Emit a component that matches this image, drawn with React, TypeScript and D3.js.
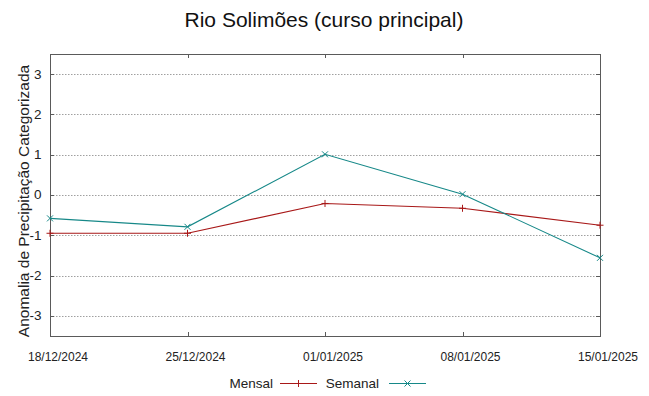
import * as d3 from "d3"
import { useEffect, useRef } from "react"

const dates = ["2024-12-18", "2024-12-25", "2025-01-01", "2025-01-08", "2025-01-15"]
const mensal = [-0.95, -0.95, -0.21, -0.33, -0.75]
const semanal = [-0.58, -0.79, 1.01, 0.02, -1.56]
const yTicks = [-3, -2, -1, 0, 1, 2, 3]
const title = "Rio Solimões (curso principal)"
const yLabel = "Anomalia de Precipitação Categorizada"

export default function App() {
    const svgRef = useRef<SVGSVGElement>(null)

    useEffect(() => {
        const width = 649
        const height = 396
        const marginTop = 54
        const marginRight = 49
        const marginBottom = 60
        const marginLeft = 50
        const frameColor = "#5a5a5a"
        const redColor = "#a81818"
        const tealColor = "#168888"
        const font = "'Liberation Sans', Arial, sans-serif"

        const parse = d3.utcParse("%Y-%m-%d")
        const xDates = dates.map(d => parse(d) as Date)
        const fmt = d3.utcFormat("%d/%m/%Y")

        const x = d3.scaleUtc([xDates[0], xDates[xDates.length - 1]], [marginLeft, width - marginRight])
        const y = d3.scaleLinear([-3.5, 3.5], [height - marginBottom, marginTop])

        if (svgRef.current !== null) {
            svgRef.current.innerHTML = ""
        }

        const svg = d3.select(svgRef.current)
            .attr("viewBox", [0, 0, width, height])
            .attr("width", width)
            .attr("height", height)
            .style("font-family", font)

        svg.append("rect")
            .attr("width", width)
            .attr("height", height)
            .attr("fill", "white")

        // grid
        svg.append("g")
            .selectAll()
            .data(yTicks)
            .join("line")
                .attr("x1", marginLeft)
                .attr("x2", width - marginRight)
                .attr("y1", d => Math.round(y(d)) + 0.5)
                .attr("y2", d => Math.round(y(d)) + 0.5)
                .attr("stroke", "#a0a0a0")
                .attr("stroke-dasharray", "1.5,1.5")

        // tick marks, all four sides, pointing inward
        const tk = svg.append("g").attr("stroke", frameColor)
        tk.selectAll(".yl").data(yTicks).join("line")
            .attr("x1", marginLeft).attr("x2", marginLeft + 4)
            .attr("y1", d => Math.round(y(d)) + 0.5).attr("y2", d => Math.round(y(d)) + 0.5)
        tk.selectAll(".yr").data(yTicks).join("line")
            .attr("x1", width - marginRight - 4).attr("x2", width - marginRight)
            .attr("y1", d => Math.round(y(d)) + 0.5).attr("y2", d => Math.round(y(d)) + 0.5)
        tk.selectAll(".xb").data(xDates).join("line")
            .attr("x1", d => Math.round(x(d)) + 0.5).attr("x2", d => Math.round(x(d)) + 0.5)
            .attr("y1", height - marginBottom).attr("y2", height - marginBottom - 4)
        tk.selectAll(".xt").data(xDates).join("line")
            .attr("x1", d => Math.round(x(d)) + 0.5).attr("x2", d => Math.round(x(d)) + 0.5)
            .attr("y1", marginTop).attr("y2", marginTop + 4)

        // frame
        svg.append("rect")
            .attr("x", marginLeft + 0.5)
            .attr("y", marginTop + 0.5)
            .attr("width", width - marginLeft - marginRight)
            .attr("height", height - marginTop - marginBottom)
            .attr("fill", "none")
            .attr("stroke", frameColor)

        // tick labels
        svg.append("g")
            .attr("font-size", 13.5)
            .attr("fill", "#222")
            .attr("text-anchor", "end")
            .selectAll()
            .data(yTicks)
            .join("text")
                .attr("x", marginLeft - 8.5)
                .attr("y", d => y(d))
                .attr("dy", "0.33em")
                .text(d => d)

        svg.append("g")
            .attr("font-size", 12)
            .attr("fill", "#222")
            .attr("text-anchor", "middle")
            .selectAll()
            .data(xDates)
            .join("text")
                .attr("x", d => x(d) + 8)
                .attr("y", height - marginBottom + 24.5)
                .text(d => fmt(d))

        // lines
        const series = [
            { values: mensal, color: redColor, marker: "plus" },
            { values: semanal, color: tealColor, marker: "cross" },
        ]
        const line = d3.line<number>()
            .x((_, i) => x(xDates[i]))
            .y(v => y(v))

        const markerPath = (kind: string, cx: number, cy: number) => {
            const s = 3.5
            return kind === "plus"
                ? `M${cx - s},${cy}H${cx + s}M${cx},${cy - s}V${cy + s}`
                : `M${cx - 3},${cy - 3}L${cx + 3},${cy + 3}M${cx - 3},${cy + 3}L${cx + 3},${cy - 3}`
        }

        for (const s of series) {
            svg.append("path")
                .attr("d", line(s.values))
                .attr("fill", "none")
                .attr("stroke", s.color)
                .attr("stroke-width", 1.1)
            svg.append("g")
                .selectAll()
                .data(s.values)
                .join("path")
                    .attr("d", (v, i) => markerPath(s.marker, x(xDates[i]), y(v)))
                    .attr("stroke", s.color)
                    .attr("fill", "none")
        }

        // title and y label
        svg.append("text")
            .attr("x", 324)
            .attr("y", 27)
            .attr("text-anchor", "middle")
            .attr("font-size", 21)
            .attr("fill", "#111")
            .text(title)

        svg.append("text")
            .attr("transform", `translate(29, 201) rotate(-90)`)
            .attr("text-anchor", "middle")
            .attr("font-size", 15.5)
            .attr("fill", "#222")
            .text(yLabel)

        // legend
        const legend = [
            { label: "Mensal", color: redColor, marker: "plus", textEnd: 273, lineStart: 280 },
            { label: "Semanal", color: tealColor, marker: "cross", textEnd: 379, lineStart: 389 },
        ]
        const ly = 383.5
        for (const l of legend) {
            svg.append("text")
                .attr("x", l.textEnd)
                .attr("y", 387.5)
                .attr("text-anchor", "end")
                .attr("font-size", 13.5)
                .attr("fill", "#222")
                .text(l.label)
            svg.append("line")
                .attr("x1", l.lineStart)
                .attr("x2", l.lineStart + 37)
                .attr("y1", ly)
                .attr("y2", ly)
                .attr("stroke", l.color)
            svg.append("path")
                .attr("d", markerPath(l.marker, l.lineStart + 18.5, ly))
                .attr("stroke", l.color)
                .attr("fill", "none")
        }
    }, [])

    return <>
        <svg ref={svgRef} style={{ position: "absolute", left: 0, top: 0, display: "block" }}></svg>
    </>
}
